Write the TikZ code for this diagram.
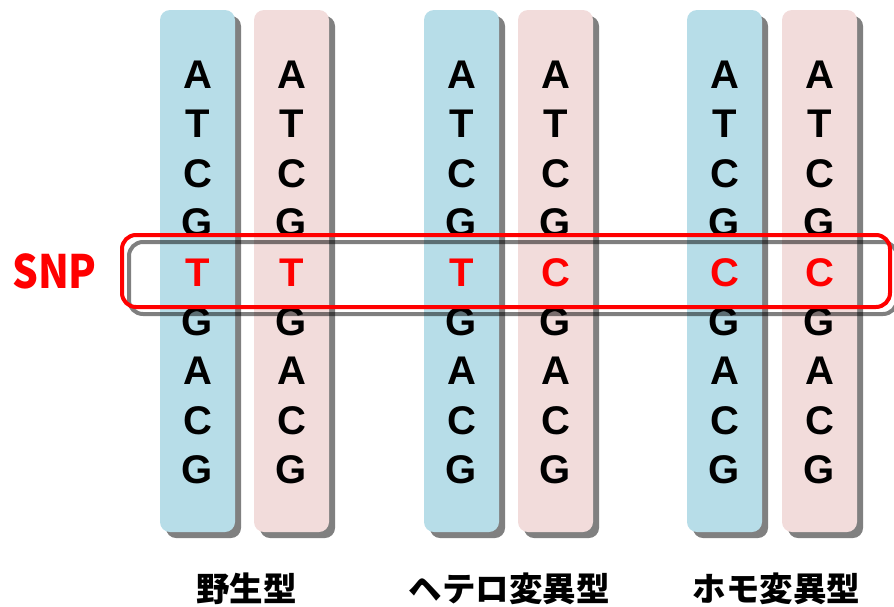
\documentclass[tikz,border=0pt]{standalone}
\usepackage{fontspec}
\setmainfont{Liberation Sans}
\newfontfamily\jpfont{Noto Sans CJK JP}
\usetikzlibrary{shadows}

\definecolor{stripblue}{HTML}{B7DDE8}
\definecolor{strippink}{HTML}{F2DCDB}
\definecolor{shadowgray}{HTML}{808080}
\definecolor{snpred}{HTML}{FF0000}

\begin{document}
\begin{tikzpicture}[x=1pt,y=-1pt,
  strip/.style={minimum width=75pt, minimum height=522pt, inner sep=0pt,
    rounded corners=10pt,
    drop shadow={shadow xshift=6pt, shadow yshift=-6pt, fill=shadowgray, opacity=1}},
  bluestrip/.style={strip, fill=stripblue},
  pinkstrip/.style={strip, fill=strippink},
  base/.style={inner sep=0pt, font=\bfseries\fontsize{40}{48}\selectfont},
  snpbase/.style={base, text=snpred},
  snpframe/.style={draw=snpred, line width=4pt, rounded corners=14pt,
    minimum width=768pt, minimum height=72pt, inner sep=0pt},
  snpshadow/.style={draw=black, draw opacity=0.5, line width=4pt, rounded corners=14pt,
    minimum width=768pt, minimum height=72pt, inner sep=0pt},
  snplabel/.style={text=snpred, inner sep=0pt,
    font=\jpfont\bfseries\fontsize{46}{54}\selectfont},
  typelabel/.style={inner sep=0pt, font=\jpfont\bfseries\fontsize{33.5}{40}\selectfont}]

\clip (0,0) rectangle (894,606);
\useasboundingbox (0,0) rectangle (894,606);

% chromosome strips: blue/pink pairs
\node[bluestrip] (b1) at (197.5,271) {};
\node[pinkstrip] (p1) at (291.5,271) {};
\node[bluestrip] (b2) at (461.5,271) {};
\node[pinkstrip] (p2) at (555.5,271) {};
\node[bluestrip] (b3) at (724.5,271) {};
\node[pinkstrip] (p3) at (819.5,271) {};

% base sequence, common to all strips except row 5
\foreach \s in {b1,p1,b2,p2,b3,p3}{
  \foreach \b [count=\i] in {A,T,C,G,,G,A,C,G}{
    \node[base] (\s-\i) at ([yshift={-(65+49.4*(\i-1))*1pt}]\s.north) {\b};
  }
}

% variant bases in row 5
\node[snpbase] (b1-5) at ([yshift={-(65+49.4*4)*1pt}]b1.north) {T};
\node[snpbase] (p1-5) at ([yshift={-(65+49.4*4)*1pt}]p1.north) {T};
\node[snpbase] (b2-5) at ([yshift={-(65+49.4*4)*1pt}]b2.north) {T};
\node[snpbase] (p2-5) at ([yshift={-(65+49.4*4)*1pt}]p2.north) {C};
\node[snpbase] (b3-5) at ([yshift={-(65+49.4*4)*1pt}]b3.north) {C};
\node[snpbase] (p3-5) at ([yshift={-(65+49.4*4)*1pt}]p3.north) {C};

% SNP frame with its shadow
\node[snpshadow] (frameshadow) at (513,278) {};
\node[snpframe] (frame) at (506,271) {};
\node[snplabel] (snp) at (54.5,271) {\scalebox{0.88}[1]{SNP}};

% genotype labels
\node[typelabel] (wild) at (246.5,589) {野生型};
\node[typelabel] (hetero) at (509,589) {ヘテロ変異型};
\node[typelabel] (homo) at (776.5,589) {ホモ変異型};

\end{tikzpicture}
\end{document}
